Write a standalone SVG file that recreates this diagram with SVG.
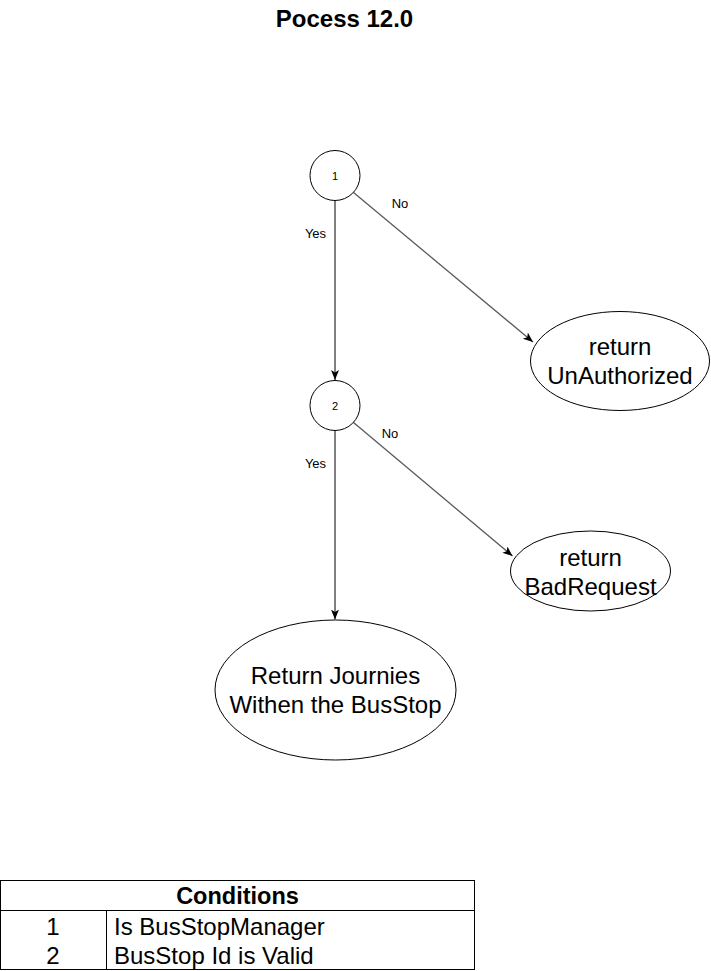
<svg xmlns="http://www.w3.org/2000/svg" width="711" height="971" viewBox="0 0 711 971">
<defs>
<marker id="arr" markerUnits="userSpaceOnUse" markerWidth="11" markerHeight="9" refX="10" refY="4" orient="auto">
<path d="M0,0 L10,4 L0,8 L2.5,4 Z" fill="#000"/>
</marker>
<style>
.shape{fill:#fff;stroke:#000;stroke-width:1}
.t{font-family:"Liberation Sans",Arial,sans-serif;fill:#000;text-anchor:middle}
.big{font-size:24px}
.lbl{font-size:13px}
.num{font-size:11px}
.edge{fill:none;stroke:#000;stroke-width:1}
.diag{stroke:#5a5a5a;stroke-width:1.3}
</style>
</defs>
<rect width="711" height="971" fill="#fff"/>
<g id="title">
<text class="t" x="344.5" y="27" font-size="24" font-weight="bold">Pocess 12.0</text>
</g>
<g id="connectors">
<line class="edge" x1="335" y1="200.5" x2="335" y2="380" marker-end="url(#arr)"/>
<line class="edge diag" x1="353.5" y1="192.5" x2="533" y2="342" marker-end="url(#arr)"/>
<line class="edge" x1="335" y1="430.5" x2="335" y2="619.5" marker-end="url(#arr)"/>
<line class="edge diag" x1="353.5" y1="422.5" x2="512.5" y2="556" marker-end="url(#arr)"/>
<text class="t lbl" x="400" y="208">No</text>
<text class="t lbl" x="315.5" y="238">Yes</text>
<text class="t lbl" x="390" y="438">No</text>
<text class="t lbl" x="315.5" y="468">Yes</text>
</g>
<g id="node1">
<circle class="shape" cx="335" cy="175.5" r="25"/>
<text class="t num" x="335" y="179.5">1</text>
</g>
<g id="node2">
<circle class="shape" cx="335" cy="405.5" r="25"/>
<text class="t num" x="335" y="409.5">2</text>
</g>
<g id="unauthorized">
<ellipse class="shape" cx="620" cy="361" rx="89.5" ry="49.5"/>
<text class="t big" x="620" y="355">return</text>
<text class="t big" x="620" y="383.5">UnAuthorized</text>
</g>
<g id="badrequest">
<ellipse class="shape" cx="590.5" cy="571" rx="80" ry="40"/>
<text class="t big" x="590.5" y="566">return</text>
<text class="t big" x="590.5" y="594.5">BadRequest</text>
</g>
<g id="journies">
<ellipse class="shape" cx="335.5" cy="690" rx="120.5" ry="70"/>
<text class="t big" x="335.5" y="684">Return Journies</text>
<text class="t big" x="335.5" y="712.5">Withen the BusStop</text>
</g>
<g id="conditions">
<rect class="shape" x="0.5" y="880.5" width="474" height="89"/>
<line class="edge" x1="0.5" y1="910.5" x2="474.5" y2="910.5"/>
<line class="edge" x1="106.5" y1="910.5" x2="106.5" y2="969.5"/>
<text class="t" x="237.5" y="903.5" font-size="23.5" font-weight="bold">Conditions</text>
<text class="t big" x="53" y="934.5">1</text>
<text class="t big" x="53" y="964">2</text>
<text class="t big" x="114" y="934.5" style="text-anchor:start">Is BusStopManager</text>
<text class="t big" x="114" y="964" style="text-anchor:start">BusStop Id is Valid</text>
</g>
</svg>
